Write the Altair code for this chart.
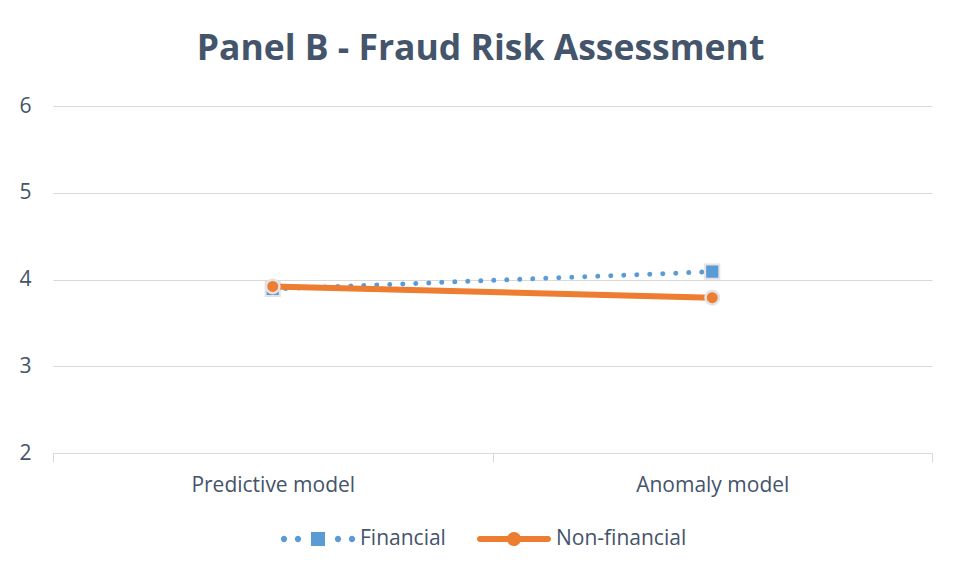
import altair as alt
import pandas as pd

categories = ["Predictive model", "Anomaly model"]
financial = [3.89, 4.09]
non_financial = [3.92, 3.79]
series = ["Financial", "Non-financial"]
colors = ["#5B9BD5", "#ED7D31"]

rows = []
for c, v in zip(categories, financial):
    rows.append({"model": c, "series": "Financial", "value": v})
for c, v in zip(categories, non_financial):
    rows.append({"model": c, "series": "Non-financial", "value": v})
df = pd.DataFrame(rows)

TXT = "#44546A"
FONT = "Open Sans"


def circ(cx, r):
    return f"M{cx - r:.3f},0A{r:.3f},{r:.3f} 0 1 1 {cx + r:.3f},0A{r:.3f},{r:.3f} 0 1 1 {cx - r:.3f},0Z"


dot_r = 0.085
fin_path = "".join(circ(x, dot_r) for x in [-0.919, -0.541, 0.541, 0.919]) + \
    "M-0.19,-0.19H0.19V0.19H-0.19Z"
nonfin_path = "M-0.95,-0.081H0.95V0.081H-0.95Z" + circ(-0.92, 0.081) + circ(0.92, 0.081) + circ(0, 0.19)

SYM = 74 * 74

x_enc = alt.X(
    "model:N",
    sort=categories,
    bandPosition=0.5,
    scale=alt.Scale(type="band", paddingInner=0, paddingOuter=0),
    axis=alt.Axis(
        title=None, labelAngle=0, tickBand="extent", tickSize=9, ticks=True,
        tickColor="#d9d9d9", domainColor="#d9d9d9", labelFontSize=21,
        labelColor=TXT, labelFont=FONT, labelPadding=12, grid=False,
    ),
)
y_enc = alt.Y(
    "value:Q",
    scale=alt.Scale(domain=[2, 6], nice=False, zero=False),
    axis=alt.Axis(
        title=None, values=[2, 3, 4, 5, 6], ticks=False, domain=False, grid=True,
        gridColor="#d9d9d9", gridWidth=1, labelFontSize=21, labelColor=TXT,
        labelFont=FONT, labelPadding=22,
    ),
)
legend = alt.Legend(
    title=None, orient="none", legendX=228, legendY=396, direction="horizontal",
    symbolSize=SYM, labelFontSize=21, labelColor=TXT, labelFont=FONT,
    labelOffset=5, columnPadding=30, padding=0, symbolStrokeWidth=0,
    symbolOpacity=1,
    symbolType=alt.ExprRef(expr=f"datum.value === 'Financial' ? '{fin_path}' : '{nonfin_path}'"),
)
color_leg = alt.Color("series:N", scale=alt.Scale(domain=series, range=colors), legend=legend)

base = alt.Chart(df)

fin_line = base.transform_filter(alt.datum.series == "Financial").mark_line(
    strokeWidth=5, strokeDash=[0.01, 13], strokeCap="round"
).encode(x=x_enc, y=y_enc, color=color_leg)

fin_pts = base.transform_filter(alt.datum.series == "Financial").mark_point(
    filled=True, shape="square", size=200, stroke="#e3e3e3", strokeWidth=2, opacity=1
).encode(x=x_enc, y=y_enc, color=color_leg)

non_line = base.transform_filter(alt.datum.series == "Non-financial").mark_line(
    strokeWidth=6, strokeCap="round"
).encode(x=x_enc, y=y_enc, color=color_leg)

non_pts = base.transform_filter(alt.datum.series == "Non-financial").mark_point(
    filled=True, shape="circle", size=180, stroke="#e3e3e3", strokeWidth=2.5, opacity=1
).encode(x=x_enc, y=y_enc, color=color_leg)

chart = alt.layer(fin_line, fin_pts, non_line, non_pts).properties(
    width=879,
    height=347,
    autosize=alt.AutoSizeParams(type="none"),
    padding={"left": 45, "top": 98, "right": 12, "bottom": 100},
    view=alt.ViewBackground(stroke="transparent", strokeOpacity=0, strokeWidth=0),
    title=alt.TitleParams(
        "Panel B - Fraud Risk Assessment", fontSize=35.5, font=FONT, fontWeight="bold",
        color=TXT, anchor="middle", dx=-12, offset=28,
    ),
).configure_view(stroke="transparent", strokeOpacity=0, strokeWidth=0).configure_axisX(
    grid=False
).configure_axisBand(grid=False).configure(background="white")

chart.save("out.html", embed_options={"renderer": "svg", "actions": False})
